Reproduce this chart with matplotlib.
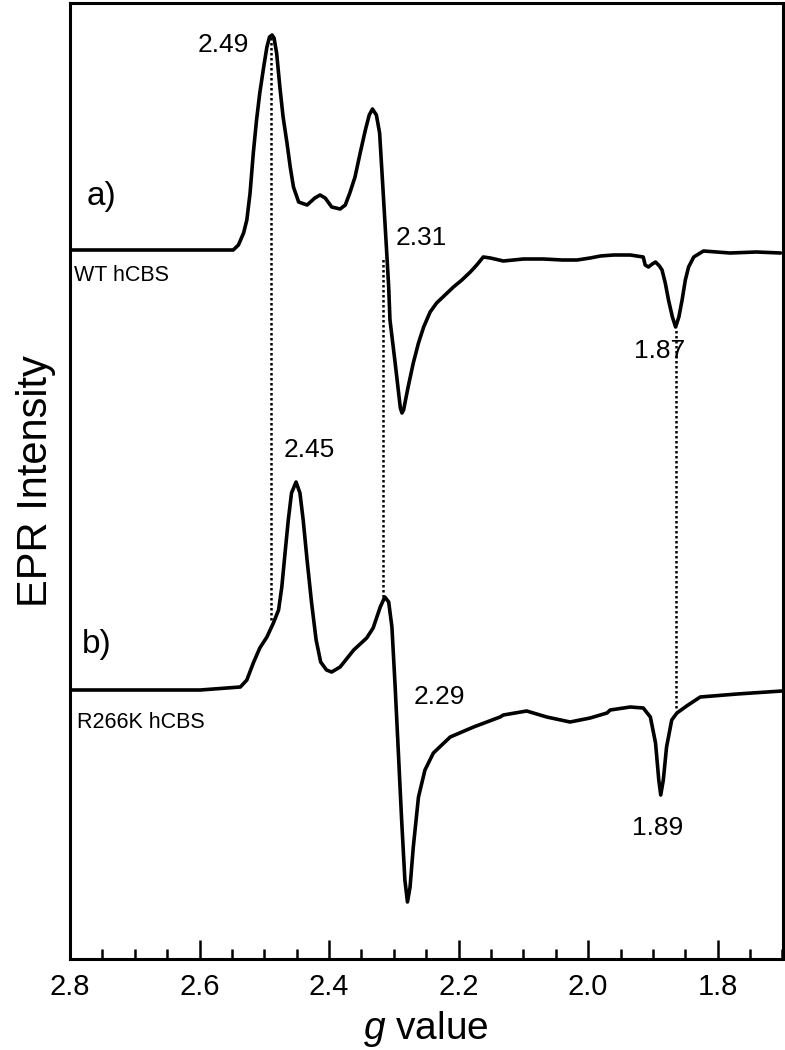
import numpy as np
import matplotlib
matplotlib.use("Agg")
import matplotlib.pyplot as plt
from matplotlib.ticker import MultipleLocator

plt.rcParams['font.family'] = ['Liberation Sans', 'DejaVu Sans']
plt.rcParams['mathtext.fontset'] = 'custom'
plt.rcParams['mathtext.it'] = 'Liberation Sans:italic'
plt.rcParams['mathtext.rm'] = 'Liberation Sans'

# ---- data ----
# WT hCBS trace: g value and intensity (a.u., relative to baseline)
g_wt = [2.800, 2.700, 2.620, 2.570, 2.548, 2.540, 2.532, 2.527, 2.522, 2.517,
        2.512, 2.507, 2.501, 2.496, 2.492, 2.488, 2.485, 2.481, 2.476, 2.471,
        2.465, 2.460, 2.455, 2.447, 2.434, 2.422, 2.414, 2.406, 2.396, 2.383,
        2.375, 2.368, 2.360, 2.352, 2.344, 2.338, 2.333, 2.327, 2.322, 2.317,
        2.314, 2.311, 2.308, 2.306, 2.298, 2.290, 2.2875, 2.285, 2.278, 2.270,
        2.262, 2.254, 2.244, 2.234, 2.221, 2.208, 2.195, 2.182, 2.172, 2.162,
        2.151, 2.131, 2.100, 2.069, 2.040, 2.017, 1.997, 1.981, 1.961, 1.935,
        1.915, 1.912, 1.907, 1.901, 1.896, 1.890, 1.886, 1.881, 1.876, 1.870,
        1.865, 1.860, 1.855, 1.850, 1.845, 1.837, 1.822, 1.781, 1.740, 1.703]
i_wt = [0, 0, 0, 0, 0, 5, 17, 30, 57, 97,
        130, 157, 183, 203, 213, 215, 212, 197, 163, 133,
        107, 83, 63, 48, 45, 52, 55, 52, 43, 41,
        45, 57, 73, 97, 120, 135, 141, 135, 117, 63,
        30, -3, -37, -70, -113, -158, -163, -160, -137, -113,
        -93, -77, -62, -53, -45, -37, -30, -22, -15, -7,
        -8, -11, -9, -9, -10, -10, -8, -6, -5, -5,
        -7, -15, -17, -14, -12, -16, -20, -33, -50, -67,
        -77, -67, -50, -30, -17, -7, -1, -3, -2, -3]

# R266K hCBS trace
g_mut = [2.800, 2.700, 2.599, 2.537, 2.527, 2.517, 2.507, 2.496, 2.486, 2.478,
         2.473, 2.468, 2.463, 2.458, 2.451, 2.445, 2.440, 2.434, 2.427, 2.420,
         2.413, 2.404, 2.396, 2.383, 2.362, 2.342, 2.332, 2.321, 2.314, 2.308,
         2.303, 2.298, 2.293, 2.288, 2.283, 2.279, 2.275, 2.270, 2.262, 2.252,
         2.239, 2.213, 2.177, 2.136, 2.131, 2.095, 2.064, 2.028, 1.997, 1.971,
         1.966, 1.935, 1.915, 1.904, 1.896, 1.891, 1.888, 1.884, 1.879, 1.871,
         1.863, 1.848, 1.827, 1.770, 1.701]
i_mut = [0, 0, 0, 3, 10, 27, 42, 53, 67, 80,
         103, 137, 170, 197, 208, 197, 170, 130, 87, 50,
         28, 20, 18, 23, 40, 52, 62, 83, 93, 88,
         63, 3, -63, -130, -190, -212, -197, -157, -107, -80,
         -63, -47, -37, -27, -25, -21, -27, -32, -28, -23,
         -20, -17, -18, -27, -53, -90, -105, -90, -57, -30,
         -23, -16, -7, -4, -1]

offset_wt = 709
offset_mut = 269

trace_labels = ["WT hCBS", "R266K hCBS"]
panel_labels = ["a)", "b)"]

# g-value annotations: text, g position, vertical position (a.u.)
ann_text = ["2.49", "2.31", "1.87", "2.45", "2.29", "1.89"]
ann_g = [2.564, 2.258, 1.890, 2.431, 2.229, 1.893]
ann_y = [914, 721, 608, 509, 262, 131]

# dotted guide lines linking the two spectra
guide_g = [2.490, 2.317, 1.864]
guide_top = [922, 702, 629]
guide_bottom = [339, 362, 251]

# x axis ticks
xmajor = [2.8, 2.6, 2.4, 2.2, 2.0, 1.8]
xmajor_labels = ["2.8", "2.6", "2.4", "2.2", "2.0", "1.8"]

# ---- figure ----
fig = plt.figure(figsize=(7.85, 10.5), dpi=100)
W, H = 785, 1050
ax = fig.add_axes([70 / W, 1 - 959 / H, (782.5 - 70) / W, (959 - 3) / H])

ax.plot(g_wt, np.array(i_wt) + offset_wt, color='black', lw=2.6,
        solid_joinstyle='round', solid_capstyle='round')
ax.plot(g_mut, np.array(i_mut) + offset_mut, color='black', lw=2.6,
        solid_joinstyle='round', solid_capstyle='round')

for g, t, b in zip(guide_g, guide_top, guide_bottom):
    ax.plot([g, g], [b, t], color='black', lw=1.8, linestyle=(0, (1, 1)))

for t, g, y in zip(ann_text, ann_g, ann_y):
    ax.text(g, y, t, fontsize=19, ha='center', va='center')

ax.text(2.752, 763, panel_labels[0], fontsize=24, ha='center', va='center')
ax.text(2.758, 314, panel_labels[1], fontsize=24, ha='center', va='center')
ax.text(2.794, 684, trace_labels[0], fontsize=15.5, ha='left', va='center')
ax.text(2.789, 237, trace_labels[1], fontsize=15.5, ha='left', va='center')

ax.set_xlim(2.8, 1.7)
ax.set_ylim(0, 956)
ax.set_xticks(xmajor)
ax.set_xticklabels(xmajor_labels)
ax.xaxis.set_minor_locator(MultipleLocator(0.05))
ax.set_yticks([])
ax.tick_params(axis='x', which='major', direction='in', length=13.5, width=1.8,
               labelsize=21, pad=10)
ax.tick_params(axis='x', which='minor', direction='in', length=7.5, width=1.8)
for s in ax.spines.values():
    s.set_linewidth(2.2)

ax.set_xlabel(r'$g$ value', fontsize=28, labelpad=6)
ax.set_ylabel('EPR Intensity', fontsize=30, labelpad=10)

fig.savefig('out.png', dpi=100)
